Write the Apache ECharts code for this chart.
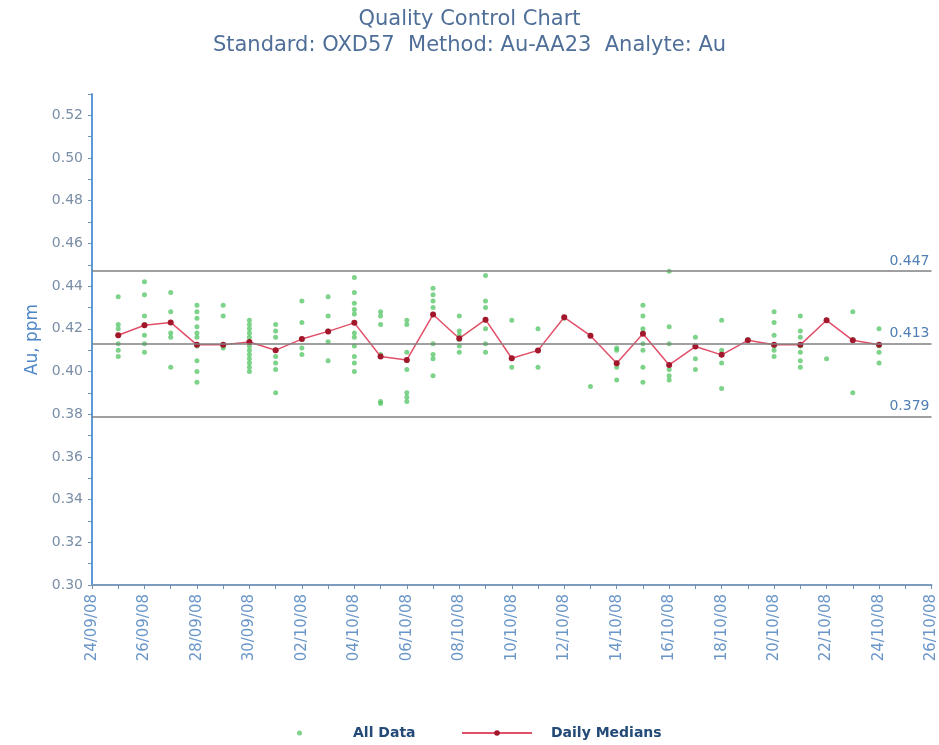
<!DOCTYPE html>
<html><head><meta charset="utf-8">
<script src="https://cdn.jsdelivr.net/npm/echarts@6/dist/echarts.min.js"></script>
<style>html,body{margin:0;padding:0;background:#fff}#c{width:939px;height:745px}</style>
</head><body><div id="c"></div>
<script>
const dates = ['25/09/08','26/09/08','27/09/08','28/09/08','29/09/08','30/09/08','01/10/08','02/10/08','03/10/08','04/10/08','05/10/08','06/10/08','07/10/08','08/10/08','09/10/08','10/10/08','11/10/08','12/10/08','13/10/08','14/10/08','15/10/08','16/10/08','17/10/08','18/10/08','19/10/08','20/10/08','21/10/08','22/10/08','23/10/08','24/10/08'];
const medians = [0.417,0.4217,0.423,0.4125,0.4125,0.4138,0.410,0.4152,0.4188,0.4228,0.407,0.4054,0.4267,0.4155,0.4243,0.4062,0.4099,0.4254,0.4168,0.4039,0.4177,0.4031,0.4117,0.4078,0.4146,0.4125,0.4125,0.424,0.4146,0.4125];
const allData = [
  [0.435,0.422,0.420,0.417,0.413,0.410,0.407],
  [0.442,0.436,0.426,0.422,0.417,0.413,0.409],
  [0.437,0.428,0.423,0.418,0.416,0.402],
  [0.431,0.428,0.425,0.421,0.418,0.416,0.412,0.405,0.400,0.395],
  [0.431,0.426,0.412,0.411],
  [0.424,0.422,0.420,0.418,0.416,0.414,0.412,0.410,0.408,0.406,0.404,0.402,0.400],
  [0.422,0.419,0.416,0.410,0.407,0.404,0.401,0.390],
  [0.433,0.423,0.415,0.411,0.408],
  [0.435,0.426,0.419,0.414,0.405],
  [0.444,0.437,0.432,0.429,0.427,0.423,0.418,0.416,0.412,0.407,0.404,0.400],
  [0.428,0.426,0.422,0.408,0.407,0.386,0.385],
  [0.424,0.422,0.409,0.405,0.401,0.390,0.388,0.386],
  [0.439,0.436,0.433,0.430,0.427,0.413,0.408,0.406,0.398],
  [0.426,0.419,0.417,0.415,0.412,0.409],
  [0.445,0.433,0.430,0.424,0.420,0.413,0.409],
  [0.424,0.406,0.402],
  [0.420,0.410,0.402],
  [0.425],
  [0.417,0.393],
  [0.411,0.410,0.404,0.402,0.396],
  [0.431,0.426,0.420,0.418,0.413,0.410,0.402,0.395],
  [0.447,0.421,0.413,0.403,0.401,0.398,0.396],
  [0.416,0.412,0.406,0.401],
  [0.424,0.410,0.408,0.404,0.392],
  [0.415],
  [0.428,0.423,0.417,0.412,0.410,0.407],
  [0.426,0.419,0.416,0.412,0.409,0.405,0.402],
  [0.424,0.406],
  [0.428,0.415,0.390],
  [0.420,0.412,0.409,0.404]
];
const xTickLabels = ['24/09/08','26/09/08','28/09/08','30/09/08','02/10/08','04/10/08','06/10/08','08/10/08','10/10/08','12/10/08','14/10/08','16/10/08','18/10/08','20/10/08','22/10/08','24/10/08','26/10/08'];
const controlLimits = [0.447, 0.413, 0.379];

function dayIndex(s){
  const p = s.split('/').map(Number);
  return (Date.UTC(2000+p[2], p[1]-1, p[0]) - Date.UTC(2008, 8, 24)) / 86400000;
}
const scatterData = [];
dates.forEach((d,i)=>allData[i].forEach(v=>scatterData.push([dayIndex(d), v])));
const medianData = dates.map((d,i)=>[dayIndex(d), medians[i]]);

const FONT = 'DejaVu Sans';
const chart = echarts.init(document.getElementById('c'), null, {renderer:'canvas'});
chart.setOption({
  animation:false,
  backgroundColor:'#fff',
  title:{
    text:'Quality Control Chart',
    subtext:'Standard: OXD57  Method: Au-AA23  Analyte: Au',
    left:'center', top:4, itemGap:5,
    textStyle:{fontFamily:FONT, fontSize:21, fontWeight:'normal', color:'#4f6f99'},
    subtextStyle:{fontFamily:FONT, fontSize:21, color:'#4f6f99'}
  },
  grid:{left:92, right:6, top:94, bottom:160, containLabel:false},
  legend:[
    {data:['All Data'], left:292, top:721, itemWidth:5, itemHeight:5,
     textStyle:{fontFamily:FONT, fontSize:14, fontWeight:'bold', color:'#244a78', padding:[0,0,0,46]}},
    {data:['Daily Medians'], left:456, top:721, itemWidth:70, itemHeight:7,
     textStyle:{fontFamily:FONT, fontSize:14, fontWeight:'bold', color:'#244a78', padding:[0,0,0,14]}}
  ],
  xAxis:{
    type:'value', min:0, max:32, interval:2,
    axisLine:{show:true, onZero:false, lineStyle:{color:'#7d9bbd', width:2}},
    axisTick:{show:true, length:4, lineStyle:{color:'#6f8fb3'}},
    minorTick:{show:true, splitNumber:2, length:4, lineStyle:{color:'#6f8fb3'}},
    splitLine:{show:false},
    axisLabel:{rotate:90, margin:9, fontFamily:FONT, fontSize:15, color:'#6a96c8',
      formatter:v=>xTickLabels[Math.round(v/2)] || ''}
  },
  yAxis:{
    type:'value', min:0.30, max:0.53, interval:0.01,
    name:'Au, ppm', nameLocation:'middle', nameGap:42,
    nameTextStyle:{fontFamily:FONT, fontSize:17, color:'#4f86c6'},
    axisLine:{show:true, onZero:false, lineStyle:{color:'#5b9bd5', width:2}},
    axisTick:{show:true, length:4, lineStyle:{color:'#6f8fb3'}},
    splitLine:{show:false},
    axisLabel:{fontFamily:FONT, fontSize:14, color:'#7a8ea6', margin:9,
      formatter:v=>{const k=Math.round(v*100); return (k%2===0 && k<=52) ? (k/100).toFixed(2) : '';}}
  },
  series:[
    {
      name:'Control Limits', type:'line', data:[], z:1,
      markLine:{
        silent:true, symbol:['none','none'], animation:false, precision:3,
        lineStyle:{color:'#808080', width:1.5, type:'solid'},
        label:{position:'insideEndTop', fontFamily:FONT, fontSize:14, color:'#4f7fb5', distance:[2,3]},
        data:controlLimits.map(v=>({yAxis:v, label:{formatter:v.toFixed(3)}}))
      }
    },
    {
      name:'All Data', type:'scatter', data:scatterData, z:2,
      symbol:'circle', symbolSize:5,
      itemStyle:{color:'#52c463', opacity:0.75}
    },
    {
      name:'Daily Medians', type:'line', data:medianData, z:3,
      symbol:'circle', symbolSize:6, showAllSymbol:true,
      lineStyle:{color:'#e24f68', width:1.5},
      itemStyle:{color:'#a3172d'}
    }
  ]
});
</script>
</body></html>
